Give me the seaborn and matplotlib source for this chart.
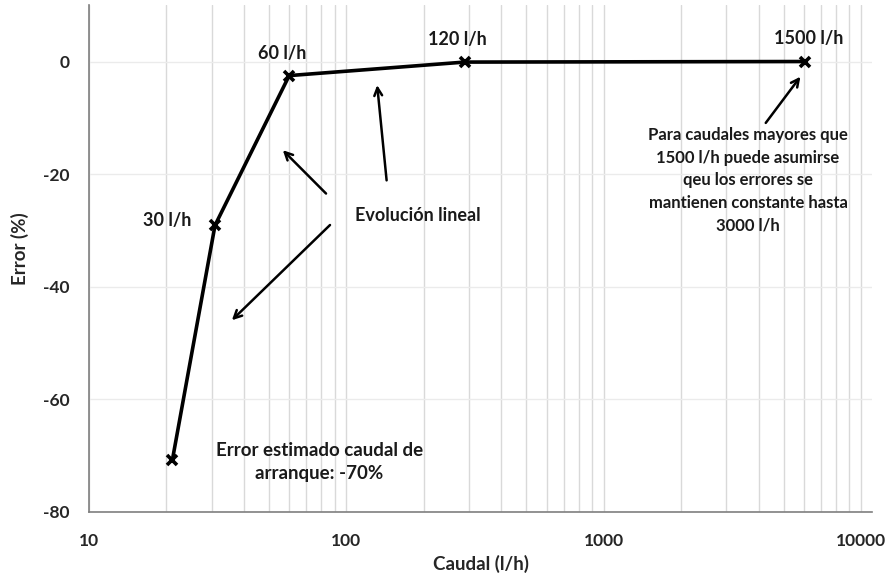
import numpy as np
import pandas as pd
import seaborn as sns
import matplotlib.pyplot as plt
from matplotlib.ticker import LogLocator, FixedLocator, NullFormatter

sns.set_theme(style="white")
plt.rcParams['font.family'] = ['Lato', 'DejaVu Sans']

# data
caudal = [21.1, 30.9, 60.0, 288, 6070]
error = [-70.8, -29.1, -2.5, -0.1, 0.0]
point_labels = ["", "30 l/h", "60 l/h", "120 l/h", "1500 l/h"]
yticks = [0, -20, -40, -60, -80]
xticks = [10, 100, 1000, 10000]

df = pd.DataFrame({"Caudal": caudal, "Error": error})

fig = plt.figure(figsize=(8.89, 5.81), dpi=100)
ax = fig.add_axes([0.100, 0.119, 0.881, 0.872])

ax.set_xscale("log")
ax.set_xlim(10, 11040)
ax.set_ylim(-80, 10)

# grid: minor verticals, major horizontals
ax.xaxis.set_major_locator(FixedLocator(xticks))
ax.xaxis.set_minor_locator(LogLocator(base=10, subs=np.arange(2, 10)))
ax.xaxis.set_minor_formatter(NullFormatter())
ax.grid(True, which="both", axis="x", color="#d9d9d9", linewidth=1)
ax.set_yticks(yticks)
ax.grid(True, which="major", axis="y", color="#ebebeb", linewidth=1)
ax.set_axisbelow(True)

sns.lineplot(data=df, x="Caudal", y="Error", sort=False, color="black",
             linewidth=2.6, marker="x", markersize=7.5, markeredgewidth=2.6,
             markeredgecolor="black", ax=ax)

ax.set_xticklabels([str(t) for t in xticks], fontsize=12.5, fontweight="bold")
ax.set_yticklabels([str(t) for t in yticks], fontsize=12.5, fontweight="bold")
ax.set_xlabel("Caudal (l/h)", fontsize=13.5, fontweight="bold")
ax.set_ylabel("Error (%)", fontsize=13.5, fontweight="bold")
ax.xaxis.set_label_coords(0.5, -0.084)
ax.yaxis.set_label_coords(-0.077, 0.52)

for s in ["top", "right"]:
    ax.spines[s].set_visible(False)
for s in ["left", "bottom"]:
    ax.spines[s].set_color("#7f7f7f")
    ax.spines[s].set_linewidth(1.2)
ax.tick_params(axis="x", which="major", direction="out", length=5, color="#7f7f7f", pad=10)
ax.tick_params(axis="x", which="minor", length=0)
ax.tick_params(axis="y", direction="out", length=5, color="#7f7f7f", pad=9)

bold = dict(fontweight="bold", color="#1a1a1a", ha="center", va="center")

# point labels
ax.text(caudal[1] * 0.65, error[1] + 0.9, point_labels[1], fontsize=13, **bold)
ax.text(caudal[2] * 0.94, error[2] + 3.9, point_labels[2], fontsize=13, **bold)
ax.text(caudal[3] * 0.94, error[3] + 4.1, point_labels[3], fontsize=13, **bold)
ax.text(caudal[4] * 1.035, error[4] + 4.1, point_labels[4], fontsize=13, **bold)

# annotations
ax.text(190, -27.3, "Evolución lineal", fontsize=13, **bold)
arrow = dict(arrowstyle="->", color="black", lw=1.8, mutation_scale=14)
ax.annotate("", xy=(55.7, -15.4), xytext=(84.9, -23.8), arrowprops=arrow)
ax.annotate("", xy=(35.3, -46.3), xytext=(88, -28.7), arrowprops=arrow)
ax.annotate("", xy=(131.5, -3.7), xytext=(143.8, -21.6), arrowprops=arrow)
ax.annotate("", xy=(5900, -2.3), xytext=(4200, -11.3), arrowprops=arrow)

ax.text(3640, -21.1, "Para caudales mayores que\n1500 l/h puede asumirse\nqeu los errores se\n"
        "mantienen constante hasta\n3000 l/h", fontsize=12, linespacing=1.5, **bold)
ax.text(78.4, -71.1, "Error estimado caudal de\narranque: -70%", fontsize=13.5,
        linespacing=1.45, **bold)

fig.savefig("out.png", dpi=100)
